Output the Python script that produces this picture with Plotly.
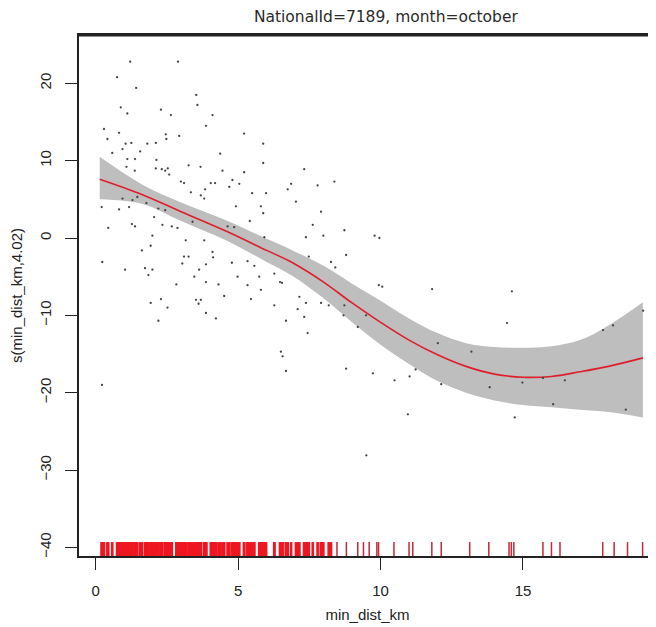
import plotly.graph_objects as go

# --- smooth term s(min_dist_km, 4.02): fitted curve and shaded 2-se band ---
fit_x = [0.14, 1.64, 3.0, 4.57, 6.0, 6.91, 8.0, 9.0, 10.0, 11.0, 12.0, 13.0, 14.0, 15.0, 16.0, 17.0, 18.0, 19.21]
fit_y = [7.6, 5.6, 3.4, 0.9, -1.6, -3.2, -5.7, -8.4, -10.9, -13.2, -15.1, -16.6, -17.6, -18.0, -17.9, -17.3, -16.6, -15.5]
band_upper = [10.5, 6.9, 4.6, 2.3, -0.1, -1.6, -3.6, -5.9, -8.1, -10.4, -12.3, -13.6, -14.1, -14.2, -14.0, -13.2, -11.3, -8.3]
band_lower = [5.0, 4.4, 2.2, -0.3, -3.1, -4.9, -7.8, -10.9, -13.8, -16.3, -18.5, -20.0, -21.0, -21.6, -21.9, -22.2, -22.5, -23.2]

# --- partial residuals ---
resid_x = [1.21, 2.89, 0.75, 1.42, 3.53, 0.88, 1.11, 2.29, 3.57, 2.64, 4.10, 3.87, 0.29, 0.82, 2.46,
           2.93, 2.48, 0.41, 5.21, 5.88, 1.05, 1.25, 1.81, 2.11, 0.94, 0.58, 1.56, 4.37, 1.11, 1.38,
           2.13, 7.32, 1.08, 1.37, 2.11, 2.32, 2.44, 2.53, 2.58, 3.26, 3.68, 4.45, 5.21, 5.88, 6.86,
           2.99, 3.10, 4.04, 4.19, 4.80, 5.04, 3.84, 3.34, 3.69, 3.81, 4.69, 5.49, 5.98, 6.74, 7.03,
           0.94, 1.29, 1.46, 0.21, 0.82, 1.17, 1.78, 2.20, 2.44, 4.92, 5.80, 5.88, 2.05, 2.34, 2.67,
           2.87, 1.27, 1.38, 0.44, 3.40, 4.63, 4.86, 5.41, 5.92, 1.99, 1.93, 1.62, 3.16, 3.81, 3.10,
           3.26, 4.10, 4.12, 0.23, 1.03, 1.73, 1.85, 1.99, 3.04, 3.63, 3.87, 3.46, 4.78, 5.33, 5.57,
           5.74, 6.27, 6.47, 6.54, 2.83, 3.87, 4.31, 4.98, 5.33, 5.80, 7.15, 7.38, 1.93, 2.29, 2.52,
           3.52, 3.69, 3.61, 4.51, 3.87, 4.22, 5.45, 6.27, 7.09, 2.20, 6.68, 7.44, 6.50, 6.56, 6.68,
           7.79, 8.38, 7.91, 7.62, 7.38, 7.99, 8.73, 9.79, 9.96, 8.79, 8.26, 8.41, 7.48, 9.94, 10.06,
           11.81, 14.61, 7.91, 8.18, 7.32, 8.73, 8.70, 9.20, 9.49, 14.44, 12.01, 13.19, 17.81, 18.16, 19.22,
           8.79, 9.73, 11.23, 11.02, 10.49, 12.13, 13.83, 14.98, 15.70, 16.47, 16.06, 18.61, 10.96, 14.71,
           0.22, 9.50]
resid_y = [22.8, 22.8, 20.8, 19.4, 18.5, 16.9, 16.1, 16.6, 17.2, 15.9, 15.9, 14.5, 14.1, 13.6, 13.4,
           13.2, 12.8, 12.8, 13.5, 12.2, 12.2, 12.3, 12.2, 12.3, 11.5, 11.0, 11.2, 10.9, 10.2, 10.2,
           10.1, 8.9, 9.2, 8.7, 9.0, 8.9, 8.7, 9.0, 8.2, 9.4, 9.2, 8.7, 8.5, 9.7, 7.0,
           7.3, 7.1, 7.1, 7.1, 7.5, 7.0, 6.3, 5.9, 5.5, 5.1, 6.6, 5.8, 5.8, 6.3, 4.7,
           5.1, 4.9, 5.3, 4.0, 3.7, 4.0, 4.5, 3.8, 3.6, 4.1, 4.1, 3.2, 2.7, 1.7, 1.5,
           1.3, 1.8, 1.5, 1.3, 2.1, 1.5, 1.4, 2.2, 0.1, 0.3, -1.0, -1.6, -0.3, -0.3, -2.4,
           -2.4, -1.8, -2.5, -3.1, -4.1, -3.9, -4.8, -4.1, -3.3, -4.1, -3.4, -5.0, -3.2, -3.0, -3.6,
           -5.0, -4.6, -5.7, -5.8, -6.0, -5.7, -6.0, -5.0, -6.1, -6.7, -7.6, -8.4, -8.4, -7.9, -9.0,
           -8.0, -8.0, -8.5, -7.5, -9.7, -10.4, -7.9, -8.7, -9.2, -10.7, -10.7, -12.3, -14.7, -15.3, -17.2,
           6.8, 7.3, 3.4, 1.7, 0.1, 0.3, 1.0, 0.3, 0.0, -2.2, -3.1, -3.8, -2.4, -6.1, -6.3,
           -6.6, -6.9, -8.4, -8.7, -10.2, -8.7, -10.0, -11.5, -10.0, -11.0, -13.6, -14.7, -11.9, -11.3, -9.4,
           -16.9, -17.5, -17.0, -17.9, -18.4, -18.9, -19.3, -18.7, -18.1, -18.4, -21.5, -22.2, -22.8, -23.2,
           -19.0, -28.1]

# --- rug: observed min_dist_km beyond the dense block (dense block comes from resid_x) ---
rug_sparse = [8.47, 8.80, 9.20, 9.40, 9.60, 9.87, 9.93, 10.47, 11.00, 11.13, 11.80, 12.13, 13.13, 13.80,
              14.51, 14.59, 14.68, 15.70, 16.00, 16.30, 17.80, 18.20, 18.67, 19.20]

x_range = [-0.587, 19.67]
y_range = [-41.12, 26.25]
rug_len = 1.8


def rug_segments(xs):
    rx, ry = [], []
    for v in xs:
        rx += [v, v, None]
        ry += [y_range[0], y_range[0] + rug_len, None]
    return rx, ry


dense_x, dense_y = rug_segments(sorted(v for v in resid_x if v < 8.3))
sparse_x, sparse_y = rug_segments(rug_sparse)

fig = go.Figure()
fig.add_trace(go.Scatter(x=fit_x, y=band_lower, mode="lines", line=dict(width=0, shape="spline"),
                         hoverinfo="skip", showlegend=False))
fig.add_trace(go.Scatter(x=fit_x, y=band_upper, mode="lines", line=dict(width=0, shape="spline"),
                         fill="tonexty", fillcolor="#BEBEBE", hoverinfo="skip", showlegend=False))
fig.add_trace(go.Scatter(x=fit_x, y=fit_y, mode="lines", line=dict(color="#E01E2A", width=1.6, shape="spline"),
                         showlegend=False))
fig.add_trace(go.Scatter(x=resid_x, y=resid_y, mode="markers",
                         marker=dict(size=2.3, color="#444444"), showlegend=False))
fig.add_trace(go.Scatter(x=dense_x, y=dense_y, mode="lines", line=dict(color="#EE1620", width=2.7),
                         showlegend=False))
fig.add_trace(go.Scatter(x=sparse_x, y=sparse_y, mode="lines", line=dict(color="#C4283A", width=1.5),
                         showlegend=False))

# the page body keeps its default 8px margin, so the margins below are offset by 8px
# (plot box at 79..656 x 35..556 in the window; its right edge falls outside the window)
axis_font = dict(family="Liberation Sans, Arial, sans-serif", size=15, color="#222")
fig.update_layout(
    width=656, height=627,
    margin=dict(l=71, r=8, t=27, b=79),
    paper_bgcolor="white", plot_bgcolor="white",
    title=dict(text="NationalId=7189, month=october", xref="container", yref="container",
               x=0.576, y=0.9856, xanchor="center", yanchor="middle",
               font=dict(family="DejaVu Sans, sans-serif", size=15.5, color="#2a2a2a")),
    font=axis_font,
    # top edge of the box, drawn just inside the plot area
    shapes=[dict(type="line", xref="paper", yref="y", x0=0, x1=1,
                 y0=y_range[1] - 0.1, y1=y_range[1] - 0.1, layer="above",
                 line=dict(color="#222", width=1.6))],
)
fig.update_xaxes(range=x_range, tickvals=[0, 5, 10, 15], ticks="outside", ticklen=12, tickwidth=1.2,
                 tickcolor="#222", showline=True, linecolor="#222", linewidth=1.5, mirror=True,
                 showgrid=False, zeroline=False, ticklabelstandoff=8, automargin=False,
                 title=dict(text="min_dist_km", font=axis_font, standoff=12))
fig.update_yaxes(range=y_range, tickvals=[-40, -30, -20, -10, 0, 10, 20], ticks="outside", ticklen=12,
                 tickwidth=1.2, tickcolor="#222", tickangle=-90, showline=True, linecolor="#222",
                 linewidth=1.5, showgrid=False, zeroline=False, ticklabelstandoff=8, automargin=False,
                 title=dict(text="s(min_dist_km,4.02)", font=axis_font, standoff=12))

fig.write_html("out.html", config={"displayModeBar": False})
